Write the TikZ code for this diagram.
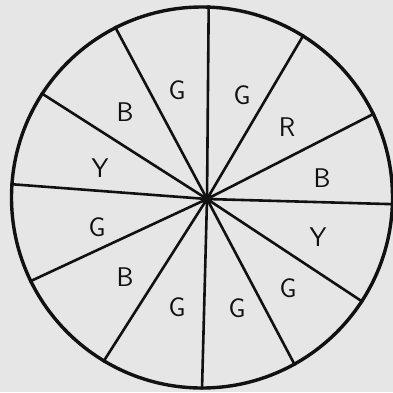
\documentclass[tikz,border=0pt]{standalone}
\usepackage{tikz}
\usetikzlibrary{positioning}
\definecolor{clPaper}{HTML}{E6E6E6}
\definecolor{clInk}{HTML}{111111}
\tikzset{
  wheel/.style={circle, draw=clInk, line width=3.4pt, fill=clPaper,
                minimum size=381pt, inner sep=0pt},
  hub/.style={circle, fill=clInk, minimum size=11pt, inner sep=0pt},
  spoke/.style={draw=clInk, line width=2.6pt},
  sector/.style={font=\sffamily\fontsize{27}{27}\selectfont, text=clInk, inner sep=0pt},
}

\begin{document}
\begin{tikzpicture}[x=1pt, y=-1pt]
  % paper and frame
  \fill[clPaper] (0,0) rectangle (393,392);
  \useasboundingbox (0,0) rectangle (393,392);
  \node[wheel] (wheel) at (202,197.5) {};
  \node[hub] (hub) at (207,199) {};
  % spokes, one per sector edge
  \foreach \a in {88.8,58,26.2,-2.5,-33.4,-61.6,-90.9,-121.6,-154.4,176.9,147.5,117.8}
    \draw[spoke] (hub.center) -- (wheel.\a);
  % sector letters
  \node[sector] (s1) at (177,90) {G};
  \node[sector] (s2) at (242,95) {G};
  \node[sector] (s3) at (287,127) {R};
  \node[sector] (s4) at (322,178) {B};
  \node[sector] (s5) at (318,237) {Y};
  \node[sector] (s6) at (288,288) {G};
  \node[sector] (s7) at (237,308) {G};
  \node[sector] (s8) at (177,307) {G};
  \node[sector] (s9) at (125,277) {B};
  \node[sector] (s10) at (97,227) {G};
  \node[sector] (s11) at (100,168) {Y};
  \node[sector] (s12) at (125,112) {B};
\end{tikzpicture}
\end{document}
